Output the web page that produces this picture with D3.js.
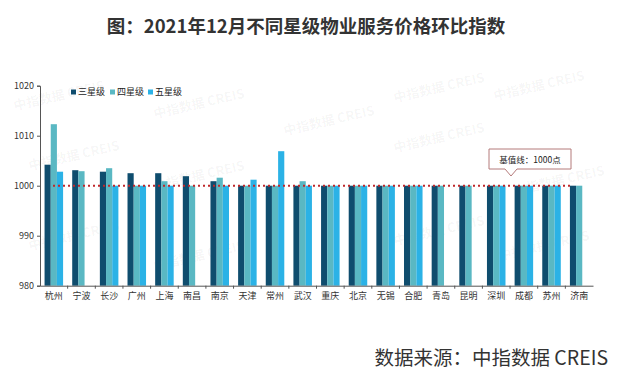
<!DOCTYPE html>
<meta charset="utf-8">
<style>
  body { margin: 0; background: #fff; }
  text { font-family: "Noto Sans CJK SC", "Noto Sans", sans-serif; }
</style>
<body>
<script src="https://d3js.org/d3.v7.min.js"></script>
<script>
  // cities on the x axis
  var cities = ["杭州","宁波","长沙","广州","上海","南昌","南京","天津","常州","武汉",
                "重庆","北京","无锡","合肥","青岛","昆明","深圳","成都","苏州","济南"];
  var seriesNames = ["三星级","四星级","五星级"];
  // null = no bar for that city
  var star3 = [1004.2,1003.1,1002.8,1002.5,1002.5,1001.9,1000.9,1000,1000,1000,
               1000,1000,1000,1000,1000,1000,1000,1000,1000,1000];
  var star4 = [1012.3,1002.9,1003.5,1000,1000.9,1000,1001.6,1000,1000,1000.9,
               1000,1000,1000,1000,1000,1000,1000,1000,1000,1000];
  var star5 = [1002.8,null,1000,1000,1000,null,1000,1001.2,1006.9,1000,
               1000,1000,1000,1000,null,null,1000,1000,1000,null];
  var yTicks = [980,990,1000,1010,1020];
  var baseValue = 1000;

  var colors = ["#0f4d6e","#5ab8c3","#2bb2e6"];

  var width = 620, height = 386;
  var svg = d3.select("body").append("svg")
      .attr("width", width)
      .attr("height", height);

  // faint watermark
  var marks = [[60,100],[200,108],[440,92],[540,90],[75,160],[330,125],[440,142],
               [200,180],[75,240],[200,260],[440,235],[545,250],[560,185]];
  svg.append("g").selectAll("text")
    .data(marks)
    .enter().append("text")
      .attr("transform", function(d) { return "translate(" + d[0] + "," + d[1] + ") rotate(-13)"; })
      .attr("text-anchor", "middle")
      .attr("font-size", 13)
      .attr("font-weight", "bold")
      .attr("fill", "#000")
      .attr("fill-opacity", 0.045)
      .text("中指数据 CREIS");

  // title
  svg.append("text")
    .attr("x", 306).attr("y", 33)
    .attr("text-anchor", "middle")
    .attr("font-size", 18.5)
    .attr("font-weight", "bold")
    .attr("fill", "#333")
    .text("图：2021年12月不同星级物业服务价格环比指数");

  var x0 = d3.scaleBand()
      .domain(cities)
      .range([40, 593])
      .paddingInner(0.33)
      .paddingOuter(0.165);

  var x1 = d3.scaleBand()
      .domain(seriesNames)
      .range([0, x0.bandwidth()]);

  var y = d3.scaleLinear()
      .domain([980, 1020])
      .range([285.7, 85.7]);

  var rows = cities.map(function(c, i) {
    return { city: c, values: [star3[i], star4[i], star5[i]] };
  });

  var groups = svg.append("g").selectAll("g")
    .data(rows)
    .enter().append("g")
      .attr("transform", function(d) { return "translate(" + x0(d.city) + ",0)"; });

  groups.selectAll("rect")
    .data(function(d) {
      return d.values.map(function(v, k) { return { key: seriesNames[k], k: k, v: v }; })
        .filter(function(e) { return e.v != null; });
    })
    .enter().append("rect")
      .attr("x", function(d) { return x1(d.key); })
      .attr("width", x1.bandwidth())
      .attr("y", function(d) { return y(d.v); })
      .attr("height", function(d) { return y(980) - y(d.v); })
      .attr("fill", function(d) { return colors[d.k]; });

  // base line at 1000
  svg.append("line")
    .attr("x1", 53).attr("x2", 570)
    .attr("y1", y(baseValue)).attr("y2", y(baseValue))
    .attr("stroke", "#c0282b")
    .attr("stroke-width", 2)
    .attr("stroke-dasharray", "2,3");

  // axes
  var yAxis = svg.append("g")
    .attr("transform", "translate(40,0)")
    .call(d3.axisLeft(y).tickValues(yTicks).tickSize(3).tickFormat(d3.format("d")));
  yAxis.select(".domain").attr("stroke", "#555");
  yAxis.selectAll(".tick line").attr("stroke", "#555");
  yAxis.selectAll("text").attr("font-size", 9).attr("fill", "#333")
    .attr("font-family", "Liberation Sans, Arial, sans-serif");

  var xAxis = svg.append("g")
    .attr("transform", "translate(0," + y(980) + ")")
    .call(d3.axisBottom(x0).tickSize(0).tickPadding(7));
  xAxis.select(".domain").attr("stroke", "#555");
  xAxis.selectAll("text").attr("font-size", 9).attr("fill", "#333");
  // small ticks between categories
  svg.append("g").selectAll("line")
    .data(cities.slice(1))
    .enter().append("line")
      .attr("x1", function(d) { return x0(d) - x0.step() * x0.paddingInner() / 2; })
      .attr("x2", function(d) { return x0(d) - x0.step() * x0.paddingInner() / 2; })
      .attr("y1", y(980)).attr("y2", y(980) + 3)
      .attr("stroke", "#555");

  // legend
  var legend = svg.append("g").selectAll("g")
    .data(seriesNames)
    .enter().append("g")
      .attr("transform", function(d, i) { return "translate(" + [71, 110, 148][i] + ",92)"; });
  legend.append("rect")
    .attr("x", 0).attr("y", -2.5)
    .attr("width", 5).attr("height", 5)
    .attr("fill", function(d, i) { return colors[i]; });
  legend.append("text")
    .attr("x", 7).attr("y", 3)
    .attr("font-size", 9)
    .attr("fill", "#222")
    .text(function(d) { return d; });

  // callout
  var callout = svg.append("g");
  callout.append("path")
    .attr("d", "M489,149 H571 V169 H517 L511,176 L505,169 H489 Z")
    .attr("fill", "#fff")
    .attr("stroke", "#b47a7a")
    .attr("stroke-width", 1);
  callout.append("text")
    .attr("x", 530).attr("y", 162.5)
    .attr("text-anchor", "middle")
    .attr("font-size", 8.5)
    .attr("fill", "#222")
    .text("基值线：1000点");

  // source
  svg.append("text")
    .attr("x", 608).attr("y", 365)
    .attr("text-anchor", "end")
    .attr("font-size", 19.5)
    .attr("fill", "#333")
    .text("数据来源：中指数据 CREIS");
</script>
</body>
</html>
